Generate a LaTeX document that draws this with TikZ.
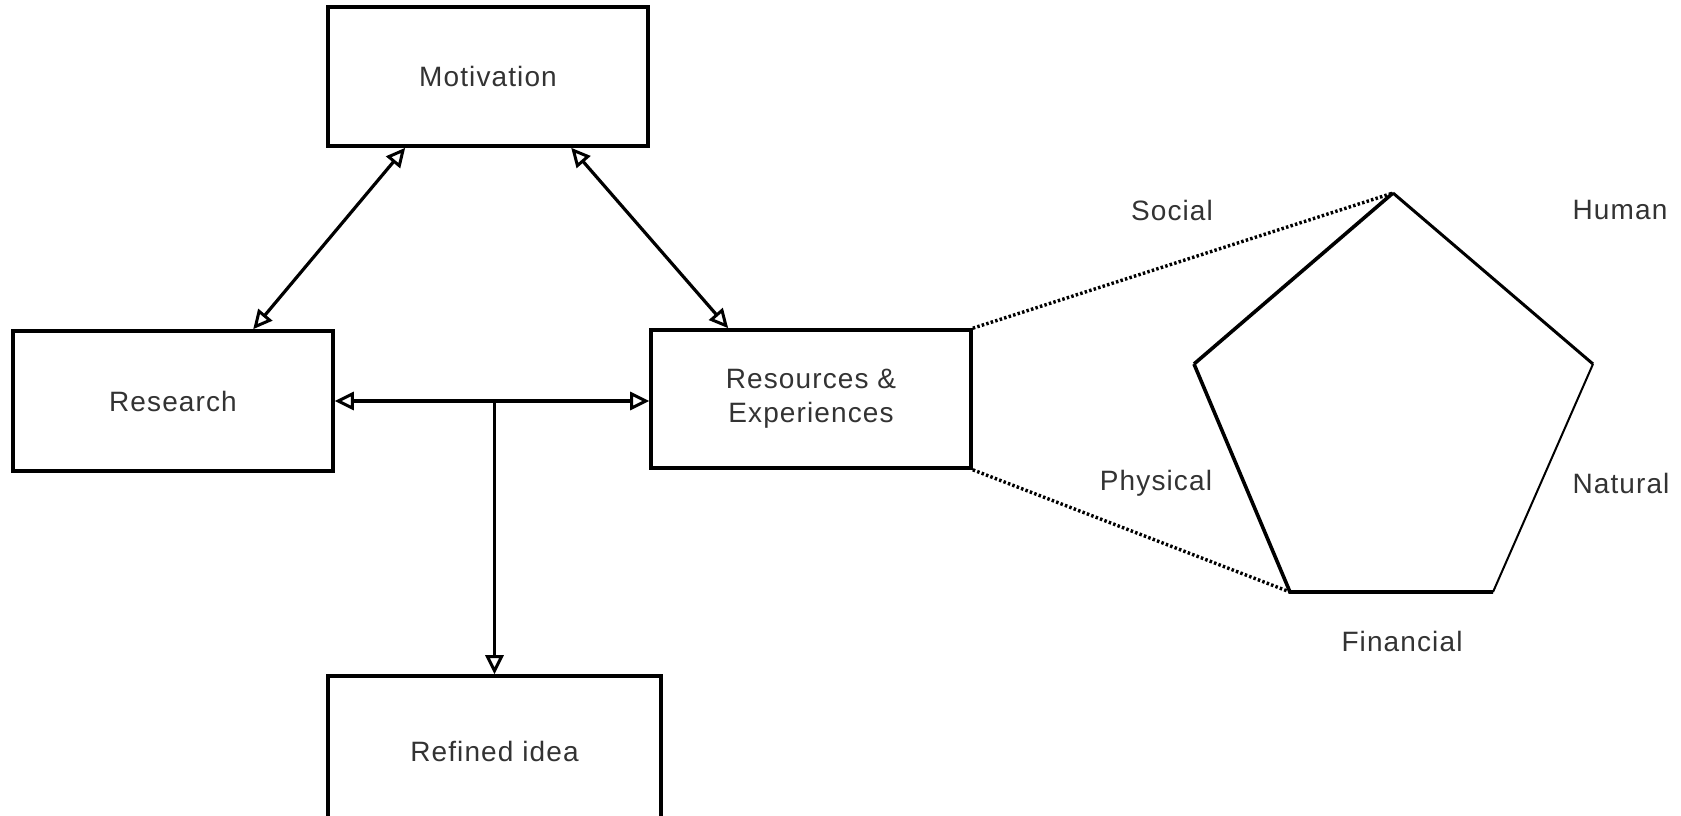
\documentclass[tikz,border=0pt]{standalone}
\usepackage{fontspec}
\setmainfont{Liberation Sans}[LetterSpace=4]
\usetikzlibrary{arrows.meta,calc}
\begin{document}
\begin{tikzpicture}[x=1pt,y=-1pt,
  box/.style={draw=black,line width=3.6pt,rectangle,minimum width=320pt,minimum height=139pt,inner sep=0pt,font=\fontsize{28}{34}\selectfont,text=black!80,align=center},
  conn/.style={line width=3.2pt},
  lbl/.style={font=\fontsize{28}{34}\selectfont,text=black!80,inner sep=0pt},
  dot/.style={line width=3.4pt,dash pattern=on 2.5pt off 2.2pt}]
\tikzset{otri/.tip={Triangle[open,length=19pt,width=18pt,line width=3pt,fill=white]}}
\useasboundingbox (0,0) rectangle (1681,815);
\fill[white] (0,0) rectangle (1681,815);

\node[box] (mot) at (488,76.5) {Motivation};
\node[box,minimum height=140pt] (rsch) at (173,401) {Research};
\node[box,minimum height=138pt] (res) at (811,399) {Resources \&\\Experiences};
\node[box,minimum width=333pt,minimum height=150pt] (ref) at (494.5,751) {Refined idea};

% arrows
\draw[conn,otri-otri] ($(mot.south west)+(79,0)$) -- ($(rsch.north west)+(242,0)$);
\draw[conn,otri-otri] ($(mot.south west)+(245,0)$) -- ($(res.north west)+(79,0)$);
\coordinate (br) at (494.5,401);
\draw[conn,otri-otri] (rsch.east |- br) -- (res.west |- br);
\draw[conn,-otri] (br) -- (ref.north);

% pentagon
\coordinate (pT) at (1393,193);
\coordinate (pUL) at (1194,364);
\coordinate (pUR) at (1593,364);
\coordinate (pLL) at (1290,592);
\coordinate (pLR) at (1493,592);
\draw[line width=3.6pt,line join=miter] (pUL) -- (pT);
\draw[line width=3pt] (pT) -- (pUR);
\draw[line width=2pt] (pUR) -- (pLR);
\draw[line width=3.6pt] (pLR) -- (pLL) -- (pUL);

\draw[dot] (res.north east) -- (pT);
\draw[dot] (res.south east) -- (pLL);

% labels
\node[lbl] (lsoc) at (1172,210) {Social};
\node[lbl] (lhum) at (1620,210) {Human};
\node[lbl] (lphy) at (1156,483) {Physical};
\node[lbl] (lnat) at (1621,483) {Natural};
\node[lbl] (lfin) at (1402,641) {Financial};
\end{tikzpicture}
\end{document}
